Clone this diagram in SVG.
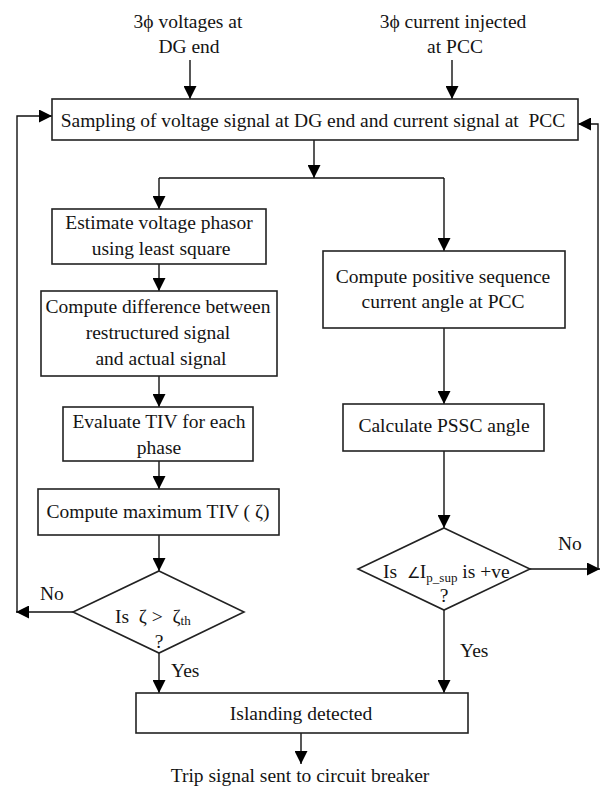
<svg xmlns="http://www.w3.org/2000/svg" width="601" height="787" viewBox="0 0 601 787">
  <defs>
    <marker id="arrow" markerUnits="userSpaceOnUse" markerWidth="14" markerHeight="13" refX="13" refY="6.5" orient="auto">
      <path d="M0,0 L13,6.5 L0,13 z" fill="#000"/>
    </marker>
    <style>
      .box { fill: #fff; stroke: #222; stroke-width: 1.6; }
      .wire { fill: none; stroke: #111; stroke-width: 1.4; }
      .arr { marker-end: url(#arrow); }
      .t { font-size: 19.5px; fill: #141414; }
      .c { text-anchor: middle; }
      .sub { font-size: 13px; }
      .ang { font-size: 15px; }
    </style>
  </defs>
  <rect width="601" height="787" fill="#fff"/>

  <!-- input labels -->
  <g id="in-voltage">
    <text class="t c" font-family="Liberation Serif" x="188" y="28">3ϕ voltages at</text>
    <text class="t c" font-family="Liberation Serif" x="189" y="53">DG end</text>
  </g>
  <g id="in-current">
    <text class="t c" font-family="Liberation Serif" x="453" y="28">3ϕ current injected</text>
    <text class="t c" font-family="Liberation Serif" x="455" y="53">at PCC</text>
  </g>

  <!-- connectors -->
  <g id="connectors">
    <line class="wire arr" x1="190" y1="60" x2="190" y2="99"/>
    <line class="wire arr" x1="452" y1="60" x2="452" y2="99"/>
    <line class="wire arr" x1="314" y1="140" x2="314" y2="178"/>
    <polyline class="wire" points="159,178 444,178"/>
    <line class="wire arr" x1="159" y1="178" x2="159" y2="209"/>
    <line class="wire arr" x1="444" y1="178" x2="444" y2="251"/>
    <line class="wire arr" x1="159" y1="264" x2="159" y2="291"/>
    <line class="wire arr" x1="159" y1="376" x2="159" y2="407"/>
    <line class="wire arr" x1="159" y1="461" x2="159" y2="489"/>
    <line class="wire arr" x1="159" y1="535" x2="159" y2="571"/>
    <line class="wire arr" x1="444" y1="328" x2="444" y2="404"/>
    <line class="wire arr" x1="444" y1="451" x2="444" y2="528"/>
    <!-- left decision: No returns to sampling -->
    <line class="wire arr" x1="73" y1="612" x2="16" y2="612"/>
    <polyline class="wire arr" points="17,612 17,116 52,116"/>
    <!-- right decision: No returns to sampling -->
    <line class="wire arr" x1="530" y1="569" x2="600" y2="569"/>
    <polyline class="wire arr" points="598,569 598,124 578,124"/>
    <!-- Yes branches -->
    <line class="wire arr" x1="159" y1="653" x2="159" y2="693"/>
    <line class="wire arr" x1="444" y1="610" x2="444" y2="693"/>
    <line class="wire arr" x1="301" y1="733" x2="301" y2="764"/>
    <text class="t" font-family="Liberation Serif" x="40" y="600">No</text>
    <text class="t" font-family="Liberation Serif" x="558" y="550">No</text>
    <text class="t" font-family="Liberation Serif" x="171" y="677">Yes</text>
    <text class="t" font-family="Liberation Serif" x="460" y="657">Yes</text>
  </g>

  <g id="sampling">
    <rect class="box" x="52" y="99" width="526" height="41"/>
    <text class="t c" font-family="Liberation Serif" x="313" y="127" xml:space="preserve">Sampling of voltage signal at DG end and current signal at  PCC</text>
  </g>

  <g id="estimate">
    <rect class="box" x="52" y="209" width="214" height="55"/>
    <text class="t c" font-family="Liberation Serif" x="159" y="229">Estimate voltage phasor</text>
    <text class="t c" font-family="Liberation Serif" x="161" y="255">using least square</text>
  </g>

  <g id="difference">
    <rect class="box" x="41" y="291" width="236" height="85"/>
    <text class="t c" font-family="Liberation Serif" x="158" y="313">Compute difference between</text>
    <text class="t c" font-family="Liberation Serif" x="158" y="339">restructured signal</text>
    <text class="t c" font-family="Liberation Serif" x="161" y="365">and actual signal</text>
  </g>

  <g id="tiv">
    <rect class="box" x="63" y="407" width="190" height="54"/>
    <text class="t c" font-family="Liberation Serif" x="159" y="428">Evaluate TIV for each</text>
    <text class="t c" font-family="Liberation Serif" x="159" y="454">phase</text>
  </g>

  <g id="max-tiv">
    <rect class="box" x="38" y="489" width="241" height="46"/>
    <text class="t c" font-family="Liberation Serif" x="158" y="518">Compute maximum TIV ( ζ)</text>
  </g>

  <g id="threshold-check">
    <polygon class="box" points="159,571 244,612 159,653 73,612"/>
    <text class="t" font-family="Liberation Serif" x="115" y="623" xml:space="preserve">Is  ζ &gt;  ζ<tspan class="sub" dy="2">th</tspan></text>
    <text class="t c" font-family="Liberation Serif" x="159" y="648">?</text>
  </g>

  <g id="pos-seq">
    <rect class="box" x="323" y="251" width="242" height="77"/>
    <text class="t c" font-family="Liberation Serif" x="443" y="283">Compute positive sequence</text>
    <text class="t c" font-family="Liberation Serif" x="443" y="308">current angle at PCC</text>
  </g>

  <g id="pssc">
    <rect class="box" x="343" y="404" width="201" height="47"/>
    <text class="t c" font-family="Liberation Serif" x="444" y="432">Calculate PSSC angle</text>
  </g>

  <g id="angle-check">
    <polygon class="box" points="444,528 530,569 444,610 358,569"/>
    <text class="t" font-family="Liberation Serif" x="383" y="578" xml:space="preserve">Is  <tspan class="ang">∠</tspan>I<tspan class="sub" dy="4">p_sup</tspan><tspan dy="-4"> is +ve</tspan></text>
    <text class="t c" font-family="Liberation Serif" x="444" y="602">?</text>
  </g>

  <g id="islanding">
    <rect class="box" x="136" y="693" width="332" height="40"/>
    <text class="t c" font-family="Liberation Serif" x="301" y="720">Islanding detected</text>
  </g>

  <g id="trip">
    <text class="t c" font-family="Liberation Serif" x="300" y="782">Trip signal sent to circuit breaker</text>
  </g>
</svg>
